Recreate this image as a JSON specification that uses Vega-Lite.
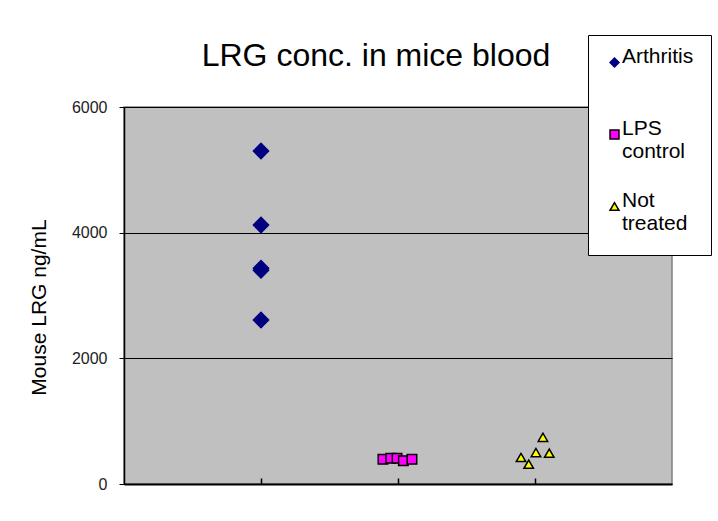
{
  "$schema": "https://vega.github.io/schema/vega-lite/v6.json",
  "width": 548,
  "height": 377,
  "autosize": {"type": "none"},
  "padding": {"left": 124, "top": 107, "right": 46, "bottom": 37},
  "background": "white",
  "title": {
    "text": "LRG conc. in mice blood",
    "font": "Liberation Sans",
    "fontSize": 32,
    "fontWeight": "normal",
    "color": "black",
    "anchor": "middle",
    "dx": -22,
    "offset": -38
  },
  "data": {
    "values": [
      {"group": "Arthritis", "pos": 1.0, "value": 5300},
      {"group": "Arthritis", "pos": 1.0, "value": 4122},
      {"group": "Arthritis", "pos": 1.0, "value": 3435},
      {"group": "Arthritis", "pos": 1.0, "value": 3400},
      {"group": "Arthritis", "pos": 1.0, "value": 2610},
      {"group": "LPS control", "pos": 1.89, "value": 393},
      {"group": "LPS control", "pos": 1.947, "value": 409},
      {"group": "LPS control", "pos": 1.993, "value": 409},
      {"group": "LPS control", "pos": 2.039, "value": 371},
      {"group": "LPS control", "pos": 2.102, "value": 393},
      {"group": "Not treated", "pos": 3.058, "value": 743},
      {"group": "Not treated", "pos": 3.007, "value": 501},
      {"group": "Not treated", "pos": 3.104, "value": 490},
      {"group": "Not treated", "pos": 2.898, "value": 422},
      {"group": "Not treated", "pos": 2.954, "value": 315}
    ]
  },
  "mark": {"type": "point", "filled": true, "opacity": 1, "strokeWidth": 1.5},
  "encoding": {
    "x": {
      "field": "pos",
      "type": "quantitative",
      "scale": {"domain": [0, 4], "nice": false, "zero": false},
      "axis": {
        "title": null,
        "values": [1, 2, 3],
        "labels": false,
        "grid": false,
        "tickSize": -6,
        "tickColor": "black",
        "tickWidth": 1.5,
        "domainColor": "black",
        "domainWidth": 2
      }
    },
    "y": {
      "field": "value",
      "type": "quantitative",
      "scale": {"domain": [0, 6000], "nice": false},
      "axis": {
        "title": "Mouse LRG ng/mL",
        "titleFont": "Liberation Sans",
        "titleFontSize": 21,
        "titleFontWeight": "normal",
        "titleColor": "black",
        "titlePadding": 22,
        "titleY": 200,
        "values": [0, 2000, 4000, 6000],
        "format": "d",
        "labelFont": "Liberation Sans",
        "labelFontSize": 16,
        "labelColor": "#222222",
        "labelPadding": 12,
        "tickSize": 5,
        "tickColor": "black",
        "domainColor": "black",
        "domainWidth": 1.5,
        "grid": true,
        "gridColor": "black",
        "gridWidth": 1,
        "gridOpacity": 1
      }
    },
    "shape": {
      "field": "group",
      "type": "nominal",
      "scale": {"domain": ["Arthritis", "LPS control", "Not treated"], "range": ["diamond", "square", "triangle-up"]},
      "legend": {"labelExpr": "datum.label === 'Arthritis' ? ['Arthritis', ' '] : split(datum.label, ' ')", "title": " ", "titleOrient": "bottom"}
    },
    "fill": {
      "field": "group",
      "type": "nominal",
      "scale": {"domain": ["Arthritis", "LPS control", "Not treated"], "range": ["#000080", "#FF00FF", "#FFFF00"]},
      "legend": {"labelExpr": "datum.label === 'Arthritis' ? ['Arthritis', ' '] : split(datum.label, ' ')", "title": " ", "titleOrient": "bottom"}
    },
    "stroke": {
      "field": "group",
      "type": "nominal",
      "scale": {"domain": ["Arthritis", "LPS control", "Not treated"], "range": ["#000080", "#000000", "#000000"]},
      "legend": {"labelExpr": "datum.label === 'Arthritis' ? ['Arthritis', ' '] : split(datum.label, ' ')", "title": " ", "titleOrient": "bottom"}
    },
    "size": {
      "condition": {"test": "datum.group === 'Arthritis'", "value": 230},
      "value": 90
    }
  },
  "config": {
    "view": {"fill": "#C0C0C0", "stroke": "#808080", "strokeWidth": 1.5},
    "legend": {
      "orient": "none",
      "legendX": 464,
      "legendY": -72,
      "padding": 17,
      "strokeColor": "black",
      "fillColor": "white",
      "labelFont": "Liberation Sans",
      "labelFontSize": 21,
      "labelColor": "black",
      "labelBaseline": "alphabetic",
      "labelOffset": -3,
      "symbolOffset": -1,
      "symbolSize": 80,
      "rowPadding": 27,
      "symbolStrokeWidth": 1.5,
      "titleFont": "Liberation Sans",
      "titleFontSize": 1,
      "titlePadding": 3
    }
  }
}
